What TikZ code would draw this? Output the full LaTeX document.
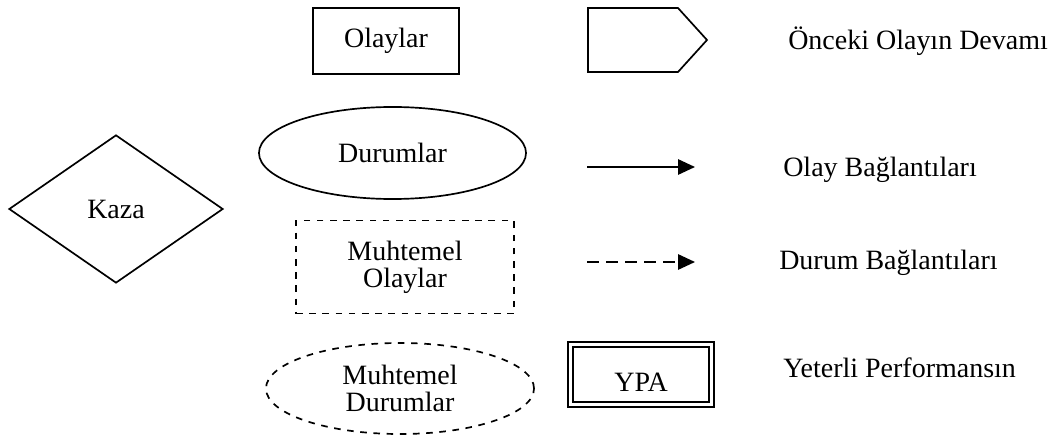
\documentclass[tikz,border=0pt]{standalone}
\usepackage{fontspec}
\setmainfont{Liberation Serif}
\usetikzlibrary{shapes.geometric, arrows.meta}

\begin{document}
\begin{tikzpicture}[x=0.025cm, y=-0.025cm,
        every node/.style={font=\fontsize{19.9}{19.2}\selectfont, inner sep=0pt, align=center},
        shape_line/.style={draw, line width=1.2pt},
        olay_box/.style={shape_line, rectangle, minimum width=3.65cm, minimum height=1.65cm},
        durum_ell/.style={shape_line, ellipse, minimum width=6.675cm, minimum height=2.3cm},
        muhtemel_box/.style={olay_box, dash pattern=on 0.165cm off 0.165cm, minimum width=5.45cm, minimum height=2.325cm},
        muhtemel_ell/.style={durum_ell, dash pattern=on 0.165cm off 0.165cm, minimum width=6.7cm, minimum height=2.275cm},
        ypa_box/.style={olay_box, double, double distance=0.0875cm, minimum width=3.525cm, minimum height=1.5cm},
        kaza_dia/.style={shape_line, diamond, minimum width=5.35cm, minimum height=3.7cm},
        legend_text/.style={anchor=base west},
        link_arrow/.style={line width=1.2pt, -{Triangle[length=0.42cm, width=0.38cm]}}
    ]

    \useasboundingbox (0,0) rectangle (1054,440);

    % --- Kaza ---
    \node[kaza_dia] (kaza) at (116,209) {Kaza};

    % --- Sutun 1: olaylar ve durumlar ---
    \node[olay_box] (olay) at (386,41) {Olaylar};
    \node[durum_ell] (durum) at (392.5,153) {Durumlar};
    \node[muhtemel_box] (mOlay) at (405,267) {Muhtemel\\Olaylar};
    \node[muhtemel_ell] (mDurum) at (400,388.5) {Muhtemel\\Durumlar};

    % --- Sutun 2: devam, baglantilar, YPA ---
    \draw[line width=1.2pt] (588,8) -- (678,8) -- (707,40) -- (678,72) -- (588,72) -- cycle;

    \coordinate (olayA) at (587,167);
    \coordinate (olayB) at (695,167);
    \draw[link_arrow] (olayA) -- (olayB);

    \coordinate (durumA) at (587,262);
    \coordinate (durumB) at (695,262);
    \draw[link_arrow, dash pattern=on 0.3cm off 0.175cm] (durumA) -- (durumB);

    \node[ypa_box] (ypa) at (641,374.5) {};
    \node (ypaText) at (641,382) {YPA};

    % --- Sutun 3: aciklamalar ---
    \node[legend_text] (devam) at (788,50) {Önceki Olayın Devamı};
    \node[legend_text] (olayBag) at (783,176) {Olay Bağlantıları};
    \node[legend_text] (durumBag) at (779,269) {Durum Bağlantıları};
    \node[legend_text] (yeterli) at (783,377) {Yeterli Performansın};

\end{tikzpicture}
\end{document}
